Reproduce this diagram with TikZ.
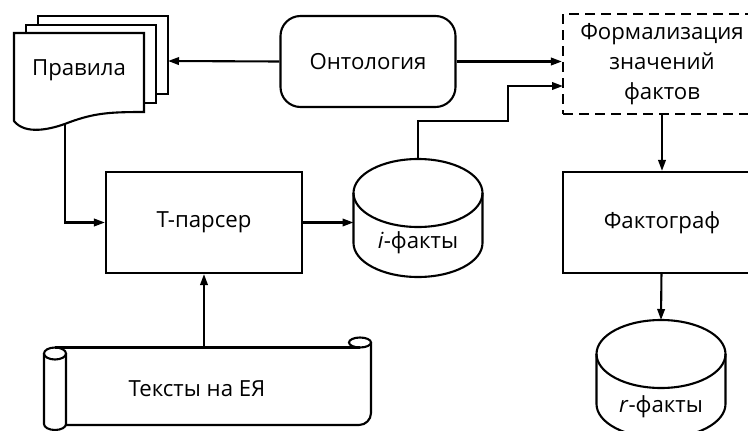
\documentclass[tikz,border=0pt]{standalone}
\usepackage{fontspec}
\setmainfont{Open Sans}
\usetikzlibrary{arrows.meta}

\begin{document}
\begin{tikzpicture}[
        x=1pt, y=-1pt,
        font=\fontsize{22.2}{30}\selectfont,
        line width=2.1pt,
        box/.style={draw, align=center, inner sep=0pt, minimum width=196pt, minimum height=101pt},
        formal/.style={box, dash pattern=on 10pt off 6pt, minimum width=198pt, minimum height=100pt},
        onto/.style={draw, rounded corners=20pt, minimum width=175pt, minimum height=91pt},
        sheet/.style={draw, fill=white},
        arr/.style={-{Triangle[length=11pt, width=7.5pt]}},
    ]
        \clip (0,0) rectangle (748,431);

        % rules: a stack of sheets
        \draw[sheet] (38,16) rectangle (168,94);
        \draw[sheet] (26,25) rectangle (156,103);
        \draw[sheet] (14,33) -- (144,33) -- (144,112)
            .. controls (110,112) and (95,113) .. (70,122)
            .. controls (50,130) and (25,135) .. (14,121) -- cycle;
        \node (rules) at (79,70) {Правила};
        \coordinate (rules-e) at (168,61);
        \coordinate (rules-s) at (65,123.5);

        \node[onto] (onto) at (368,61.5) {Онтология};
        \node[formal] (formal) at (662,64) {Формализация\\значений\\фактов};
        \node[box] (parser) at (204,222.5) {Т-парсер};
        \node[box, minimum width=198pt] (factograph) at (662,222.5) {Фактограф};

        % fact stores
        \foreach \cx/\cy in {418/193, 661/354} {
            \draw[fill=white] (\cx-64.5,\cy) -- ++(0,50)
                arc[start angle=180, end angle=0, x radius=64.5, y radius=34] -- ++(0,-50);
            \draw (\cx,\cy) ellipse[x radius=64.5, y radius=34];
        }
        \node (ifacts) at (418,243) {\textit{i}-факты};
        \node (rfacts) at (661,407) {\textit{r}-факты};
        \coordinate (ifacts-n) at (418,159);
        \coordinate (ifacts-w) at (353.5,222.5);
        \coordinate (rfacts-n) at (661,320);

        % texts: a scroll
        \draw (55,347.5) -- (360,347.5);
        \draw (371,342.5) -- (371,413) arc[start angle=0, end angle=90, radius=12] -- (66,425);
        \draw (360,342.5) ellipse[x radius=11, y radius=5];
        \draw (44,353.5) -- (44,424) arc[start angle=180, end angle=0, x radius=11, y radius=6] -- (66,353.5);
        \draw (55,353.5) ellipse[x radius=11, y radius=6];
        \node (texts) at (197,389) {Тексты на ЕЯ};
        \coordinate (texts-n) at (204,347.5);

        \coordinate (bend) at (508,121);
        \coordinate (formal-in) at (563,86);

        \draw[arr] (onto.west) -- (rules-e);
        \draw[arr] (onto.east) -- (onto.east -| formal.west);
        \draw[arr] (ifacts-n) |- (bend) |- (formal-in);
        \draw[arr] (formal) -- (factograph);
        \draw[arr] (factograph) -- (rfacts-n);
        \draw[arr] (rules-s) |- (parser);
        \draw[arr] (parser) -- (ifacts-w);
        \draw[arr] (texts-n) -- (parser);
    \end{tikzpicture}
\end{document}
